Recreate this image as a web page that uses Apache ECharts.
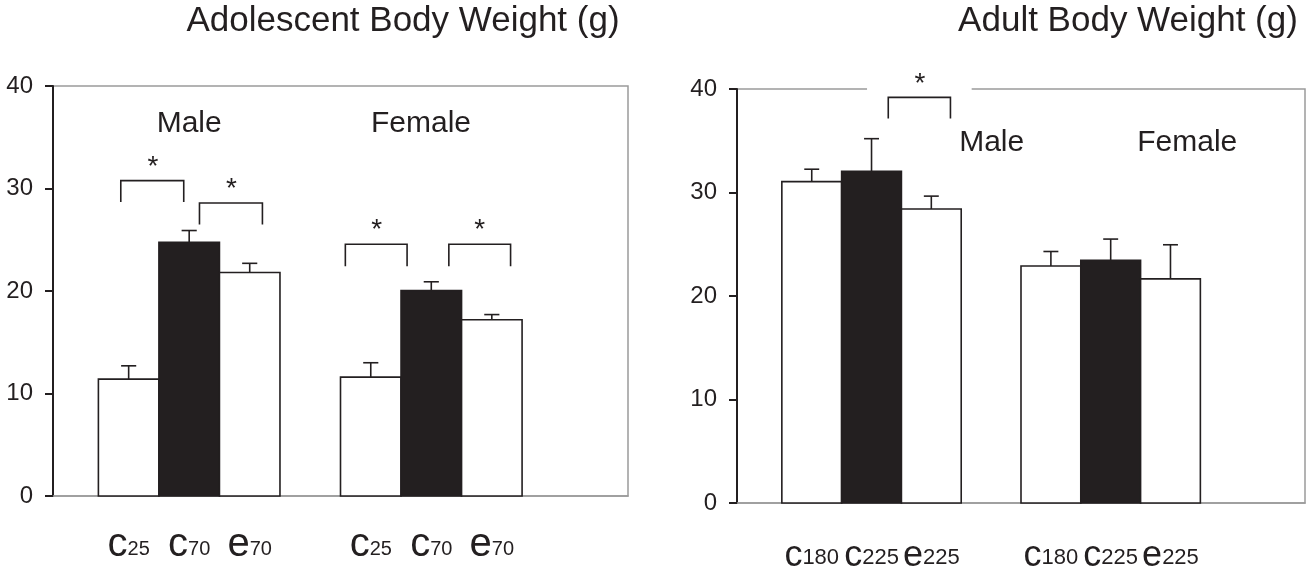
<!DOCTYPE html>
<html><head><meta charset="utf-8">
<script src="https://cdn.jsdelivr.net/npm/echarts@6/dist/echarts.min.js"></script>
<style>html,body{margin:0;padding:0;background:#fff}#c{width:1313px;height:574px}</style>
</head><body><div id="c"></div>
<script>
// ---- data ----
const sexes = ['Male', 'Female'];
const adolTitle = 'Adolescent Body Weight (g)';
const adultTitle = 'Adult Body Weight (g)';
const adolLabels = ['c25', 'c70', 'e70', 'c25', 'c70', 'e70'];
const adolMean = [11.4, 24.75, 21.8, 11.6, 20.05, 17.2];
const adolSem = [1.3, 1.15, 0.9, 1.4, 0.85, 0.5];
const adultLabels = ['c180', 'c225', 'e225', 'c180', 'c225', 'e225'];
const adultMean = [31.05, 32.05, 28.4, 22.9, 23.45, 21.65];
const adultSem = [1.2, 3.15, 1.25, 1.4, 2.05, 3.3];
const yTicks = [0, 10, 20, 30, 40];
// slot of each bar on the x axis: sex group * 4 + bar index
const slots = [0, 1, 2, 4, 5, 6];

// significance markers (x from, x to, bracket top, leg bottom) in data units
const adolBrackets = [[-0.13, 0.91, 30.77, 28.68], [1.17, 2.21, 28.59, 26.48], [3.58, 4.6, 24.56, 22.42], [5.29, 6.31, 24.56, 22.42]];
const adolStars = [[0.40, 32.68], [1.70, 30.48], [4.10, 26.51], [5.80, 26.51]];
const adolSexPos = [[1.0, 36.3], [4.83, 36.3]];
const adultBrackets = [[1.28, 2.32, 39.19, 37.14]];
const adultStars = [[1.81, 41.06]];
const adultSexPos = [[3.01, 34.8], [6.28, 34.8]];

const FONT = "'Liberation Sans', Arial, sans-serif";
const INK = '#231f20';
const GRAY = '#9b9b9b';

const chart = echarts.init(document.getElementById('c'), null, {renderer: 'canvas'});

function barRender(params, api) {
  const x = api.value(0), v = api.value(1), e = api.value(2), k = api.value(3);
  const tl = api.coord([x - 0.5, v]);
  const br = api.coord([x + 0.5, 0]);
  const et = api.coord([x, v + e]);
  const cap = api.size([0.125, 0])[0];
  return {
    type: 'group',
    children: [
      {type: 'line', shape: {x1: et[0], y1: et[1], x2: et[0], y2: tl[1]}, style: {stroke: INK, lineWidth: 1.6}},
      {type: 'line', shape: {x1: et[0] - cap, y1: et[1], x2: et[0] + cap, y2: et[1]}, style: {stroke: INK, lineWidth: 1.6}},
      {type: 'rect', shape: {x: tl[0], y: tl[1], width: br[0] - tl[0], height: br[1] - tl[1]},
        style: {fill: k === 1 ? INK : '#fff', stroke: INK, lineWidth: 1.6}}
    ]
  };
}

function annotRender(brackets, stars, sexPos, gap) {
  return function (params, api) {
    const ch = [];
    if (gap) {
      const p = api.coord([gap[0], 40]);
      const w = api.size([gap[1], 0])[0];
      ch.push({type: 'rect', shape: {x: p[0] - w / 2, y: p[1] - 3, width: w, height: 6}, style: {fill: '#fff'}});
    }
    brackets.forEach(b => {
      const a = api.coord([b[0], b[2]]), c = api.coord([b[1], b[2]]);
      const a2 = api.coord([b[0], b[3]]), c2 = api.coord([b[1], b[3]]);
      ch.push({type: 'polyline', shape: {points: [a2, a, c, c2]}, style: {stroke: INK, lineWidth: 1.6, fill: null}});
    });
    stars.forEach(s => {
      const p = api.coord(s);
      ch.push({type: 'text', x: p[0], y: p[1] + 6, style: {text: '*', font: '28px ' + FONT, fill: INK, align: 'center', verticalAlign: 'middle'}});
    });
    sexPos.forEach((s, i) => {
      const p = api.coord(s);
      ch.push({type: 'text', x: p[0], y: p[1], style: {text: sexes[i], font: '30px ' + FONT, fill: INK, align: 'center', verticalAlign: 'middle'}});
    });
    return {type: 'group', children: ch};
  };
}

function xAxis(gi, labels, bigSize, smallSize, margin) {
  return {
    type: 'value', gridIndex: gi, min: -1.25, max: 8.25,
    axisLine: {show: true, onZero: false, lineStyle: {color: GRAY, width: 1.5}},
    axisTick: {show: false}, splitLine: {show: false},
    axisLabel: {
      customValues: slots, margin: margin,
      formatter: v => {
        const i = slots.indexOf(Math.round(v));
        if (i < 0) return '';
        const m = labels[i].match(/^(\D+)(\d+)$/);
        return '{a|' + m[1] + '}{b|' + m[2] + '}';
      },
      rich: {
        a: {fontSize: bigSize, fontFamily: FONT, color: INK, verticalAlign: 'bottom'},
        b: {fontSize: smallSize, fontFamily: FONT, color: INK, verticalAlign: 'bottom', padding: [0, 0, Math.round(bigSize * 0.15), 0]}
      }
    }
  };
}
function yAxis(gi) {
  return {
    type: 'value', gridIndex: gi, min: yTicks[0], max: yTicks[yTicks.length - 1], interval: 10,
    axisLine: {show: true, onZero: false, lineStyle: {color: INK, width: 2}},
    axisTick: {show: true, length: 8, lineStyle: {color: INK, width: 2}},
    splitLine: {show: false},
    axisLabel: {fontSize: 24, fontFamily: FONT, color: INK, margin: 20}
  };
}

const option = {
  backgroundColor: '#fff',
  animation: false,
  grid: [
    {left: 53, top: 86, width: 575, height: 410, show: true, borderColor: GRAY, borderWidth: 1.5},
    {left: 737, top: 89, width: 568, height: 415, show: true, borderColor: GRAY, borderWidth: 1.5}
  ],
  graphic: [
    {type: 'text', x: 403, y: 21, style: {text: adolTitle, font: '35px ' + FONT, fill: INK, align: 'center', verticalAlign: 'middle'}},
    {type: 'text', x: 1128, y: 21, style: {text: adultTitle, font: '35px ' + FONT, fill: INK, align: 'center', verticalAlign: 'middle'}}
  ],
  xAxis: [xAxis(0, adolLabels, 40, 20, 29), xAxis(1, adultLabels, 36, 22, 35)],
  yAxis: [yAxis(0), yAxis(1)],
  series: [
    {type: 'custom', xAxisIndex: 0, yAxisIndex: 0, renderItem: barRender,
      data: slots.map((s, i) => [s, adolMean[i], adolSem[i], i % 3])},
    {type: 'custom', xAxisIndex: 1, yAxisIndex: 1, renderItem: barRender,
      data: slots.map((s, i) => [s, adultMean[i], adultSem[i], i % 3])},
    {type: 'custom', xAxisIndex: 0, yAxisIndex: 0, renderItem: annotRender(adolBrackets, adolStars, adolSexPos, null),
      data: [[0, 0]], z: 5},
    {type: 'custom', xAxisIndex: 1, yAxisIndex: 1, renderItem: annotRender(adultBrackets, adultStars, adultSexPos, [1.80, 1.75]),
      data: [[0, 0]], z: 5}
  ]
};
chart.setOption(option);
</script></body></html>
